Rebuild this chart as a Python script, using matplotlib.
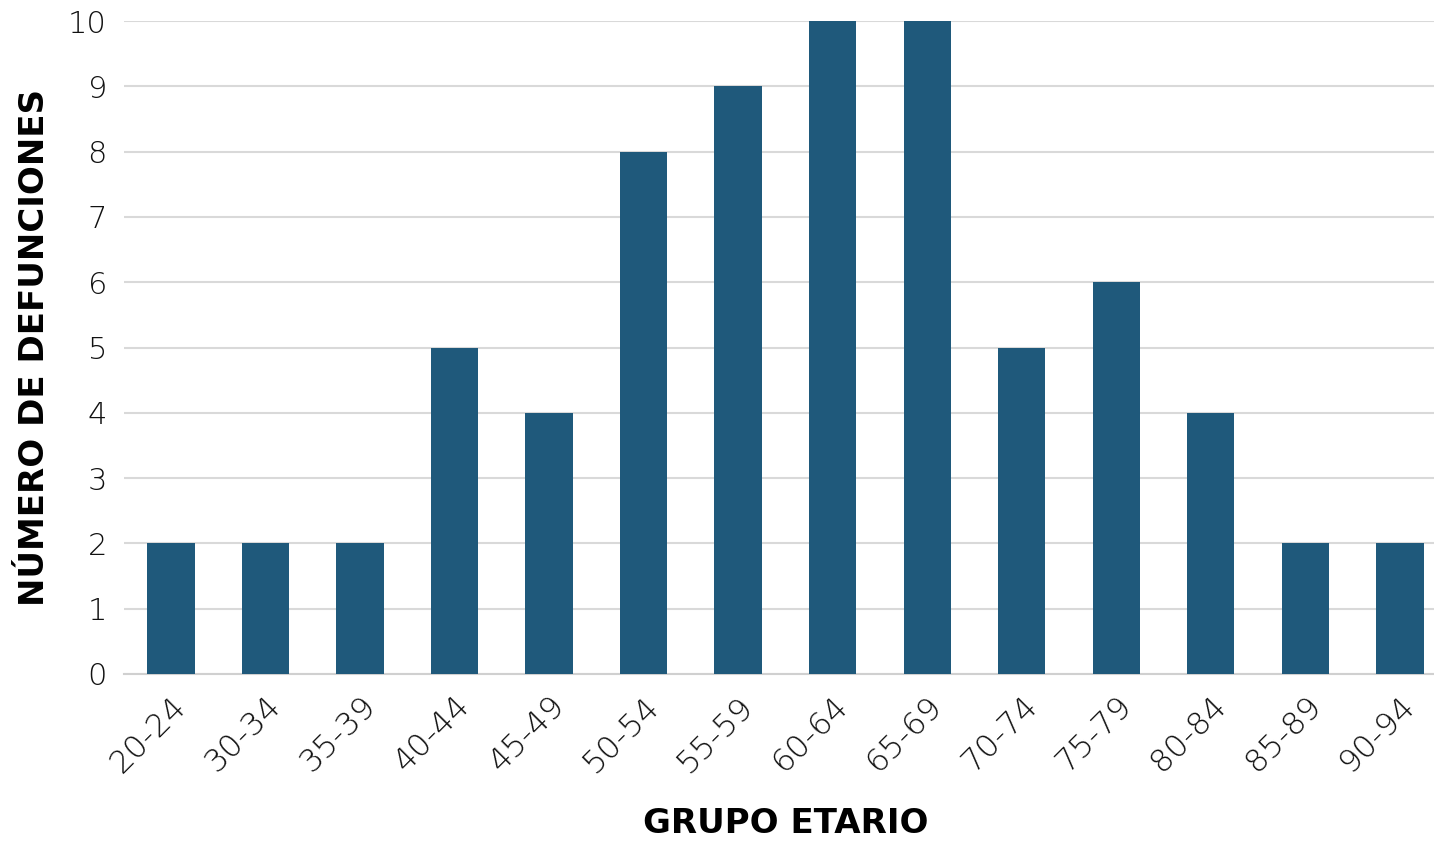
import matplotlib.pyplot as plt
import numpy as np

grupos = ['20-24', '30-34', '35-39', '40-44', '45-49', '50-54', '55-59',
          '60-64', '65-69', '70-74', '75-79', '80-84', '85-89', '90-94']
defunciones = [2, 2, 2, 5, 4, 8, 9, 10, 10, 5, 6, 4, 2, 2]

plt.rcParams['font.family'] = ['DejaVu Sans']

fig = plt.figure(figsize=(14.34, 8.43), dpi=100)
ax = fig.add_axes([0.0862, 0.2005, 0.923, 0.7745])

x = np.arange(len(grupos))
ax.bar(x, defunciones, width=0.5, color='#1f597b', zorder=3)

ax.set_xlim(-0.5, len(grupos) - 0.5)
ax.set_ylim(0, 10)
ax.set_yticks(range(0, 11))
ax.grid(axis='y', color='#d9d9d9', linewidth=1.5, zorder=0)

for s in ['top', 'right', 'left']:
    ax.spines[s].set_visible(False)
ax.spines['bottom'].set_color('#d0d0d0')
ax.spines['bottom'].set_linewidth(1.5)

ax.tick_params(axis='both', length=0, labelsize=22, pad=12, labelcolor='#111111')
for lab in ax.get_yticklabels():
    lab.set_fontweight('light')
ax.set_xticks(x)
ax.set_xticklabels(grupos, rotation=45, ha='right', va='top',
                   rotation_mode='anchor', fontweight='light', fontsize=23)

ax.set_xlabel('GRUPO ETARIO', fontsize=24.5, fontweight='bold', labelpad=21)
ax.set_ylabel('NÚMERO DE DEFUNCIONES', fontsize=24.5, fontweight='bold', labelpad=12)

fig.savefig('out.png', dpi=100)
